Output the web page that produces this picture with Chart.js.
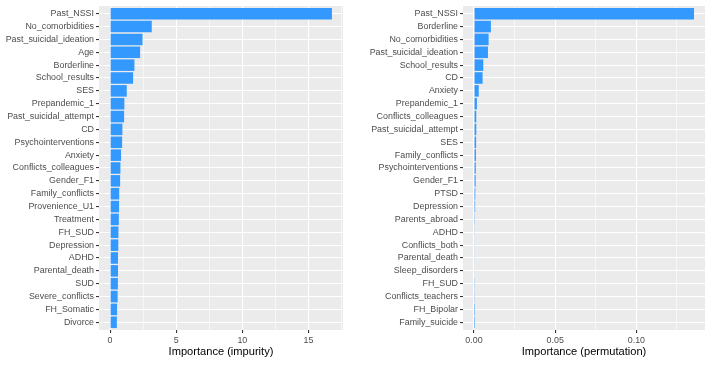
<!DOCTYPE html>
<html>
<head>
<meta charset="utf-8">
<script src="https://cdn.jsdelivr.net/npm/chart.js@4.4.1/dist/chart.umd.min.js"></script>
<style>
  html, body { margin: 0; padding: 0; background: #ffffff; }
  #wrap { position: relative; width: 712px; height: 368px; overflow: hidden; }
  .pane { position: absolute; top: 0; width: 356px; height: 368px; }
</style>
</head>
<body>
<div id="wrap">
  <div class="pane" style="left:0"><canvas id="left" width="356" height="368"></canvas></div>
  <div class="pane" style="left:356px"><canvas id="right" width="356" height="368"></canvas></div>
</div>
<script>
// ---- Data ----
const impurityLabels = [
  "Past_NSSI", "No_comorbidities", "Past_suicidal_ideation", "Age", "Borderline",
  "School_results", "SES", "Prepandemic_1", "Past_suicidal_attempt", "CD",
  "Psychointerventions", "Anxiety", "Conflicts_colleagues", "Gender_F1", "Family_conflicts",
  "Provenience_U1", "Treatment", "FH_SUD", "Depression", "ADHD",
  "Parental_death", "SUD", "Severe_conflicts", "FH_Somatic", "Divorce"
];
const impurityValues = [
  16.77, 3.15, 2.45, 2.27, 1.84,
  1.74, 1.26, 1.08, 1.06, 0.93,
  0.91, 0.83, 0.78, 0.76, 0.69,
  0.68, 0.66, 0.63, 0.62, 0.60,
  0.60, 0.59, 0.57, 0.53, 0.51
];
const impurityTicks = [0, 5, 10, 15];
const impurityTitle = "Importance (impurity)";

const permutationLabels = [
  "Past_NSSI", "Borderline", "No_comorbidities", "Past_suicidal_ideation", "School_results",
  "CD", "Anxiety", "Prepandemic_1", "Conflicts_colleagues", "Past_suicidal_attempt",
  "SES", "Family_conflicts", "Psychointerventions", "Gender_F1", "PTSD",
  "Depression", "Parents_abroad", "ADHD", "Conflicts_both", "Parental_death",
  "Sleep_disorders", "FH_SUD", "Conflicts_teachers", "FH_Bipolar", "Family_suicide"
];
const permutationValues = [
  0.1355, 0.0104, 0.0090, 0.0086, 0.0057,
  0.0053, 0.0029, 0.0018, 0.0014, 0.0014,
  0.0013, 0.0012, 0.0011, 0.0010, 0.0008,
  0.0007, 0.0005, 0.0004, 0.0004, 0.0004,
  0.0003, 0.0002, 0.0002, 0.00005, 0.00002
];
const permutationTicks = [0, 0.05, 0.10];
const permutationTitle = "Importance (permutation)";

// ---- Styling ----
const FONT = "'Liberation Sans', Arial, Helvetica, sans-serif";
const BAR_COLOR = "#3399FF";
const PANEL_BG = "#EBEBEB";

const panelBg = {
  id: 'panelBg',
  beforeDraw(chart) {
    const a = chart.chartArea, c = chart.ctx;
    c.save();
    c.fillStyle = PANEL_BG;
    c.fillRect(a.left, a.top, a.right - a.left, a.bottom - a.top);
    c.restore();
  }
};

function makeChart(id, labels, values, majorTicks, title, fmt, yWidth, padRight) {
  const maxV = Math.max(...values);
  const xmin = -0.05 * maxV, xmax = 1.05 * maxV;
  const step = majorTicks[1] - majorTicks[0];
  // major + minor (midpoint) gridline positions
  const gridVals = [];
  for (let k = 0; majorTicks[0] + k * step / 2 <= xmax + 1e-12; k++) {
    gridVals.push(+(majorTicks[0] + k * step / 2).toFixed(6));
  }
  const isMajor = v => majorTicks.some(t => Math.abs(t - v) < 1e-9);
  const n = labels.length;

  return new Chart(document.getElementById(id), {
    type: 'bar',
    data: {
      datasets: [{
        data: values.map((v, i) => ({ x: v, y: i })),
        backgroundColor: BAR_COLOR,
        borderWidth: 0,
        barPercentage: 0.9,
        categoryPercentage: 1.0
      }]
    },
    options: {
      indexAxis: 'y',
      responsive: false,
      animation: false,
      devicePixelRatio: 1,
      layout: { padding: { top: 6, right: padRight, left: 0, bottom: 0 } },
      plugins: { legend: { display: false }, tooltip: { enabled: false } },
      scales: {
        y: {
          type: 'linear',
          reverse: true,
          offset: false,
          min: -0.6,
          max: n - 1 + 0.6,
          afterBuildTicks(s) { s.ticks = labels.map((l, i) => ({ value: i })); },
          afterFit(s) { s.width = yWidth; s.paddingTop = 0; s.paddingBottom = 0; },
          border: { display: false },
          grid: {
            offset: false,
            color: '#FFFFFF',
            lineWidth: 1.1,
            drawTicks: true,
            tickLength: 3,
            tickColor: '#333333',
            tickWidth: 1.1
          },
          ticks: {
            autoSkip: false,
            padding: 2,
            color: '#4D4D4D',
            font: { family: FONT, size: 8.9 },
            callback: v => labels[Math.round(v)]
          }
        },
        x: {
          type: 'linear',
          offset: false,
          min: xmin,
          max: xmax,
          afterBuildTicks(s) { s.ticks = gridVals.map(v => ({ value: v })); },
          afterFit(s) { s.height = 38; s.paddingLeft = 0; s.paddingRight = 0; },
          border: { display: false },
          grid: {
            offset: false,
            color: '#FFFFFF',
            lineWidth: c => (c.tick && isMajor(c.tick.value)) ? 1.1 : 0.55,
            drawTicks: true,
            tickLength: 3,
            tickColor: c => (c.tick && isMajor(c.tick.value)) ? '#333333' : 'rgba(0,0,0,0)',
            tickWidth: 1.1
          },
          ticks: {
            autoSkip: false,
            maxRotation: 0,
            padding: 2,
            color: '#4D4D4D',
            font: { family: FONT, size: 8.9 },
            callback: v => isMajor(v) ? fmt(v) : ''
          },
          title: {
            display: true,
            text: title,
            color: '#000000',
            font: { family: FONT, size: 11.1 },
            padding: { top: 0, bottom: 9 }
          }
        }
      }
    },
    plugins: [panelBg]
  });
}

makeChart('left', impurityLabels, impurityValues, impurityTicks, impurityTitle,
  v => String(Math.round(v)), 99, 13);
makeChart('right', permutationLabels, permutationValues, permutationTicks, permutationTitle,
  v => v.toFixed(2), 107, 7);
</script>
</body>
</html>
